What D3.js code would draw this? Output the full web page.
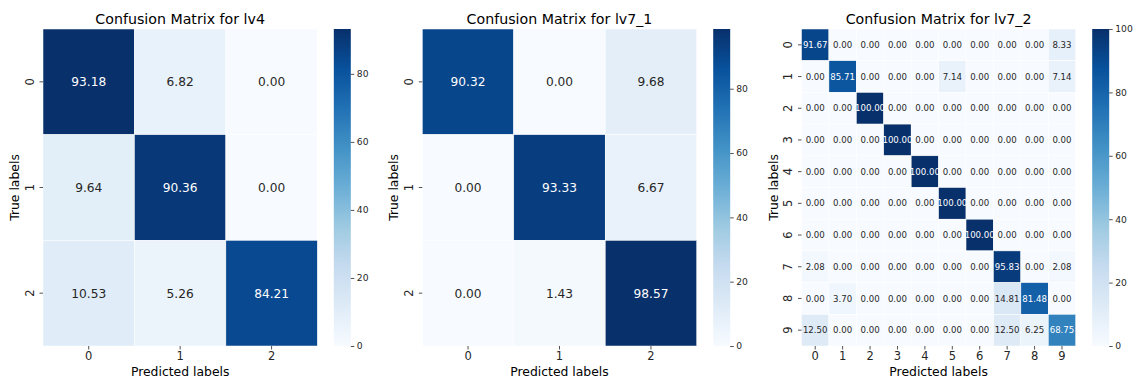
<!DOCTYPE html>
<html>
<head>
<meta charset="utf-8">
<script src="https://cdn.jsdelivr.net/npm/d3@7/dist/d3.min.js"></script>
<style>
  body { margin: 0; background: #fff; }
  svg { display: block; font-family: "DejaVu Sans", sans-serif; }
</style>
</head>
<body>
<script>
// data
var lv4Labels = ["0", "1", "2"];
var lv4Matrix = [
  [93.18, 6.82, 0.00],
  [9.64, 90.36, 0.00],
  [10.53, 5.26, 84.21]
];

var lv71Labels = ["0", "1", "2"];
var lv71Matrix = [
  [90.32, 0.00, 9.68],
  [0.00, 93.33, 6.67],
  [0.00, 1.43, 98.57]
];

var lv72Labels = ["0", "1", "2", "3", "4", "5", "6", "7", "8", "9"];
var lv72Matrix = [
  [91.67, 0, 0, 0, 0, 0, 0, 0, 0, 8.33],
  [0, 85.71, 0, 0, 0, 7.14, 0, 0, 0, 7.14],
  [0, 0, 100, 0, 0, 0, 0, 0, 0, 0],
  [0, 0, 0, 100, 0, 0, 0, 0, 0, 0],
  [0, 0, 0, 0, 100, 0, 0, 0, 0, 0],
  [0, 0, 0, 0, 0, 100, 0, 0, 0, 0],
  [0, 0, 0, 0, 0, 0, 100, 0, 0, 0],
  [2.08, 0, 0, 0, 0, 0, 0, 95.83, 0, 2.08],
  [0, 3.70, 0, 0, 0, 0, 0, 14.81, 81.48, 0],
  [12.50, 0, 0, 0, 0, 0, 0, 12.50, 6.25, 68.75]
];

var cbarTicks = [0, 20, 40, 60, 80, 100];

// matplotlib "Blues"
var bluesStops = ["#f7fbff", "#deebf7", "#c6dbef", "#9ecae1", "#6baed6",
                  "#4292c6", "#2171b5", "#08519c", "#08306b"];

var width = 1137, height = 380;
var svg = d3.select("body").append("svg")
  .attr("width", width)
  .attr("height", height);

var defs = svg.append("defs");
var grad = defs.append("linearGradient")
  .attr("id", "blues")
  .attr("x1", 0).attr("y1", 1)
  .attr("x2", 0).attr("y2", 0);
grad.selectAll("stop")
  .data(bluesStops)
  .enter().append("stop")
  .attr("offset", function(d, i) { return i / (bluesStops.length - 1); })
  .attr("stop-color", function(d) { return d; });

function lum(c) {
  var rgb = d3.rgb(c);
  var f = function(v) {
    v = v / 255;
    return v <= 0.03928 ? v / 12.92 : Math.pow((v + 0.055) / 1.055, 2.4);
  };
  return 0.2126 * f(rgb.r) + 0.7152 * f(rgb.g) + 0.0722 * f(rgb.b);
}

function drawPanel(title, labels, matrix, opt) {
  var vmax = d3.max(matrix, function(r) { return d3.max(r); });
  var color = d3.scaleLinear()
    .domain(bluesStops.map(function(d, i) { return vmax * i / (bluesStops.length - 1); }))
    .range(bluesStops)
    .interpolate(d3.interpolateRgb)
    .clamp(true);

  var top = 29, bottom = 346;
  var x = d3.scaleBand().domain(labels).range([opt.left, opt.right]);
  var y = d3.scaleBand().domain(labels).range([top, bottom]);

  var g = svg.append("g");

  // cells
  var cells = [];
  matrix.forEach(function(row, i) {
    row.forEach(function(v, j) {
      cells.push({row: labels[i], col: labels[j], v: v});
    });
  });

  g.selectAll("rect.cell")
    .data(cells)
    .enter().append("rect")
    .attr("class", "cell")
    .attr("x", function(d) { return x(d.col); })
    .attr("y", function(d) { return y(d.row); })
    .attr("width", x.bandwidth())
    .attr("height", y.bandwidth())
    .attr("fill", function(d) { return color(d.v); })
    .attr("stroke", "white")
    .attr("stroke-width", 0.5);

  g.selectAll("text.annot")
    .data(cells)
    .enter().append("text")
    .attr("class", "annot")
    .attr("x", function(d) { return x(d.col) + x.bandwidth() / 2; })
    .attr("y", function(d) { return y(d.row) + y.bandwidth() / 2; })
    .attr("dy", "0.36em")
    .attr("text-anchor", "middle")
    .attr("font-size", opt.annotSize)
    .attr("fill", function(d) { return lum(color(d.v)) > 0.408 ? "#262626" : "#ffffff"; })
    .text(function(d) { return d.v.toFixed(2); });

  // x axis
  var xAxis = g.append("g")
    .attr("transform", "translate(0," + bottom + ")")
    .call(d3.axisBottom(x).tickSize(3.5).tickPadding(2.5));
  xAxis.select(".domain").remove();
  xAxis.selectAll(".tick line").attr("stroke", "#262626").attr("stroke-width", 0.8);
  xAxis.selectAll(".tick text")
    .attr("font-size", 11.5)
    .attr("font-family", "DejaVu Sans")
    .attr("fill", "#262626");

  // y axis
  var yAxis = g.append("g")
    .attr("transform", "translate(" + opt.left + ",0)")
    .call(d3.axisLeft(y).tickSize(3.5).tickPadding(2.5));
  yAxis.select(".domain").remove();
  yAxis.selectAll(".tick line").attr("stroke", "#262626").attr("stroke-width", 0.8);
  yAxis.selectAll(".tick text")
    .attr("font-size", 11.5)
    .attr("font-family", "DejaVu Sans")
    .attr("fill", "#262626")
    .attr("x", null).attr("dy", null)
    .attr("text-anchor", "middle")
    .attr("transform", "translate(-9.5,0) rotate(-90)");

  // titles
  g.append("text")
    .attr("x", (opt.left + opt.right) / 2)
    .attr("y", 24)
    .attr("text-anchor", "middle")
    .attr("font-size", 14.2)
    .attr("fill", "#000")
    .text(title);

  g.append("text")
    .attr("x", (opt.left + opt.right) / 2)
    .attr("y", 376)
    .attr("text-anchor", "middle")
    .attr("font-size", 12.4)
    .attr("fill", "#000")
    .text("Predicted labels");

  g.append("text")
    .attr("transform", "translate(" + (opt.left - 24) + "," + ((top + bottom) / 2) + ") rotate(-90)")
    .attr("text-anchor", "middle")
    .attr("font-size", 12.4)
    .attr("fill", "#000")
    .text("True labels");

  // colorbar
  var cbX = opt.right + 16.5, cbW = 17;
  var cy = d3.scaleLinear().domain([0, vmax]).range([bottom, top]);
  g.append("rect")
    .attr("x", cbX)
    .attr("y", cy(vmax))
    .attr("width", cbW)
    .attr("height", cy(0) - cy(vmax))
    .attr("fill", "url(#blues)");

  var cAxis = g.append("g")
    .attr("transform", "translate(" + (cbX + cbW) + ",0)")
    .call(d3.axisRight(cy)
      .tickValues(cbarTicks.filter(function(t) { return t <= vmax; }))
      .tickFormat(d3.format("d"))
      .tickSize(3.5).tickPadding(2.5));
  cAxis.select(".domain").remove();
  cAxis.selectAll(".tick line").attr("stroke", "#262626").attr("stroke-width", 0.8);
  cAxis.selectAll(".tick text")
    .attr("font-size", 9.2)
    .attr("font-family", "DejaVu Sans")
    .attr("fill", "#262626");
}

drawPanel("Confusion Matrix for lv4", lv4Labels, lv4Matrix,
  {left: 43, right: 317.3, annotSize: 12.2});
drawPanel("Confusion Matrix for lv7_1", lv71Labels, lv71Matrix,
  {left: 422.3, right: 696.7, annotSize: 12.2});
drawPanel("Confusion Matrix for lv7_2", lv72Labels, lv72Matrix,
  {left: 801.5, right: 1075.7, annotSize: 8.6});
</script>
</body>
</html>
